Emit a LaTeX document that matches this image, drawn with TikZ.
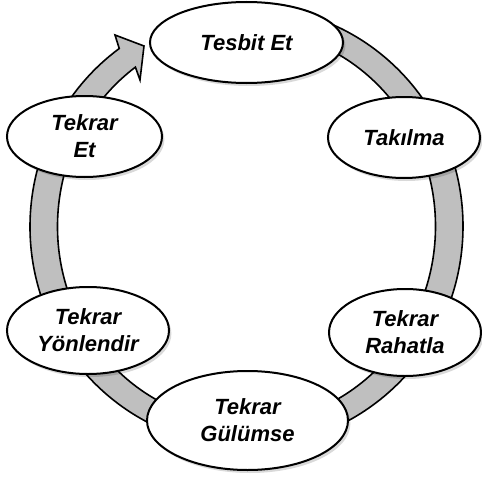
\documentclass[tikz,border=0pt]{standalone}
\usepackage{fontspec}
\setmainfont{Liberation Sans}
\usetikzlibrary{shapes.geometric,shadows,calc}
\definecolor{ringgray}{RGB}{191,191,191}
\tikzset{
  stage/.style={ellipse, draw=black, line width=1pt, fill=white, inner sep=0pt,
    align=center, font=\fontsize{11pt}{13.5pt}\selectfont\bfseries\itshape,
    drop shadow={shadow xshift=1.2pt, shadow yshift=-1.5pt, opacity=0.15, fill=black}},
  ring/.style={fill=ringgray, draw=black, line width=0.8pt, line join=miter}
}
\begin{document}
\begin{tikzpicture}[x=0.5pt, y=0.5pt]
\useasboundingbox (0,0) rectangle (482,478);
\coordinate (C) at (246.5,251.5);
\coordinate (wingA) at (115,443);
\coordinate (tip) at (144,432);
\coordinate (wingB) at (140,398);
\path[ring] ($(C)+(85:216.5 and 220)$)
  arc[start angle=85, end angle=-234, x radius=216.5, y radius=220]
  -- (wingA) -- (tip) -- (wingB)
  -- ($(C)+(126:189 and 197)$)
  arc[start angle=-234, end angle=85, x radius=189, y radius=197]
  -- cycle;
\node[stage, minimum width=96.5pt, minimum height=40.5pt] (tesbit) at (246.5,435.5) {Tesbit Et};
\node[stage, minimum width=76pt, minimum height=40.5pt] (takilma) at (404,340.5) {Takılma};
\node[stage, minimum width=76pt, minimum height=43.5pt] (rahatla) at (405,145.5) {Tekrar\\Rahatla};
\node[stage, minimum width=100.5pt, minimum height=49.5pt] (gulumse) at (247.5,57.5) {Tekrar\\Gülümse};
\node[stage, minimum width=81pt, minimum height=43.5pt] (yonlendir) at (88,147.5) {Tekrar\\Yönlendir};
\node[stage, minimum width=77.5pt, minimum height=40.5pt] (tekraret) at (84.5,341.5) {Tekrar\\Et};
\end{tikzpicture}
\end{document}
